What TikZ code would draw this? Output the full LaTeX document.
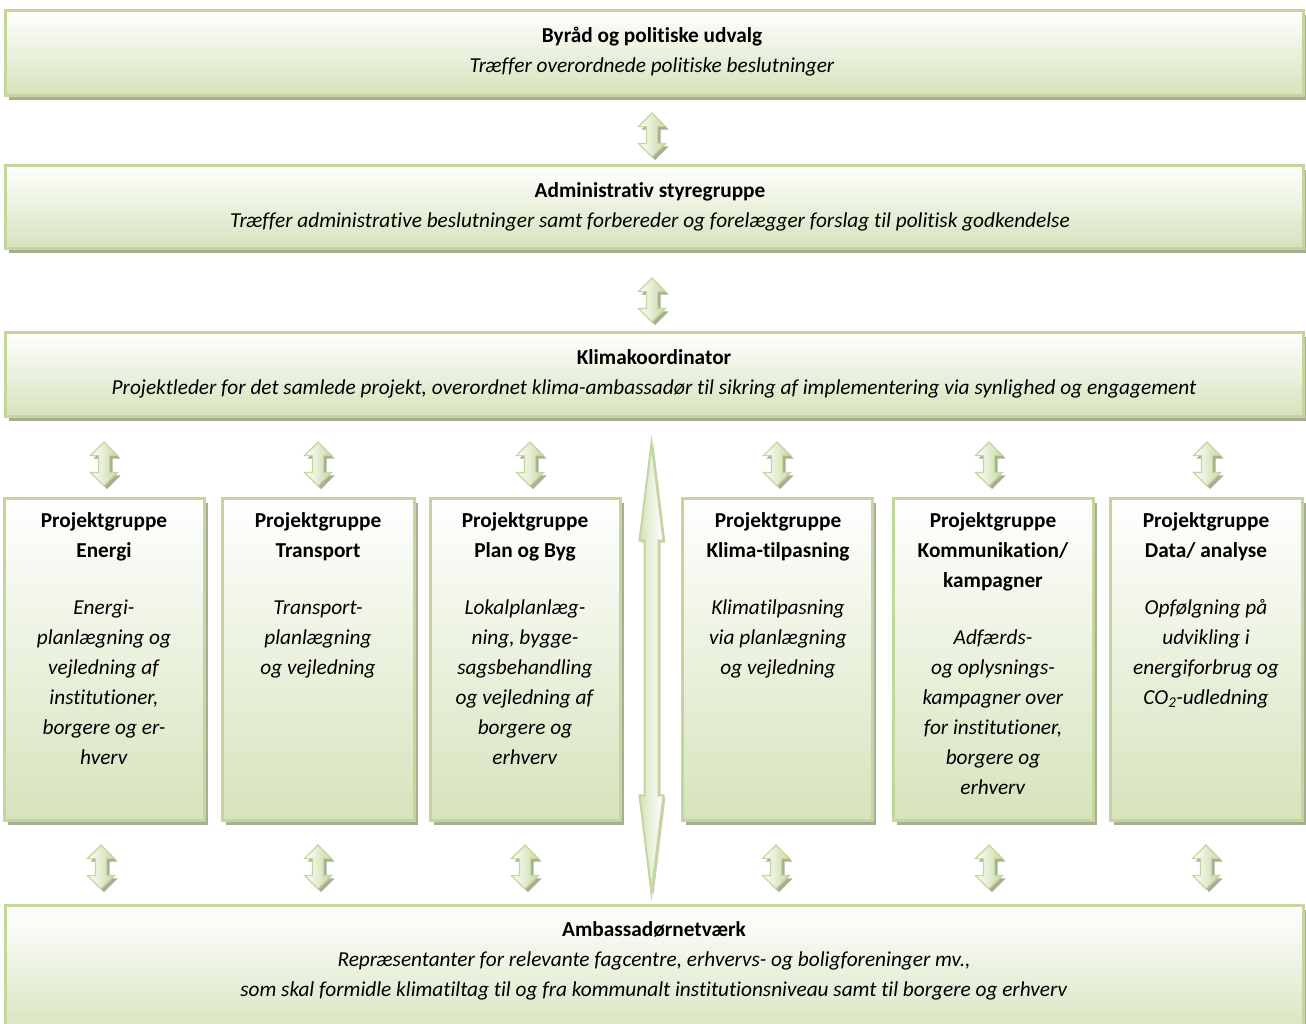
\documentclass[tikz,border=0pt]{standalone}
\usepackage{fontspec}
\setmainfont{Carlito}[Ligatures=NoCommon]
\usetikzlibrary{shapes.arrows,shadows}
\definecolor{bordg}{HTML}{C3D69B}
\definecolor{fillg}{HTML}{D6E3BC}
\definecolor{arrg}{HTML}{C6D9A0}
\definecolor{shadg}{HTML}{A6AE95}
\begin{document}
\begin{tikzpicture}[x=1pt,y=-1pt,
  box/.style={draw=bordg, line width=3pt, top color=white, bottom color=fillg, inner sep=0pt,
    drop shadow={shadow xshift=4pt, shadow yshift=-5pt, fill=shadg, opacity=1}},
  txt/.style={anchor=base, align=center, font=\fontsize{21.3}{30}\selectfont, inner sep=0pt},
  dbl/.style={double arrow, rotate=90, minimum height=44pt, inner xsep=0pt, inner ysep=5pt,
    double arrow head extend=8pt, draw=bordg, line width=1.2pt, left color=white, right color=arrg,
    drop shadow={shadow xshift=3pt, shadow yshift=-3pt, fill=shadg, opacity=1}}]
\useasboundingbox (0,0) rectangle (1306,1023);
% row boxes
\node[box, minimum width=1298pt, minimum height=85pt] (top) at (654,52.5) {};
\node[box, minimum width=1298pt, minimum height=83pt] (adm) at (654,206.5) {};
\node[box, minimum width=1298pt, minimum height=84pt] (klima) at (654,374) {};
\node[box, minimum width=200pt, minimum height=322pt] (p1) at (104,659) {};
\node[box, minimum width=192pt, minimum height=322pt] (p2) at (318,659) {};
\node[box, minimum width=190pt, minimum height=322pt] (p3) at (525,659) {};
\node[box, minimum width=190pt, minimum height=322pt] (p4) at (777,659) {};
\node[box, minimum width=200pt, minimum height=322pt] (p5) at (993,659) {};
\node[box, minimum width=192pt, minimum height=322pt] (p6) at (1206,659) {};
\node[box, minimum width=1298pt, minimum height=135pt] (amb) at (654,972.5) {};
% texts (anchor = baseline of the last line)
\node[txt] (t1) at (652,72) {\textbf{Byråd og politiske udvalg}\\\textit{Træffer overordnede politiske beslutninger}};
\node[txt] (t2) at (650,227) {\textbf{Administrativ styregruppe}\\\textit{Træffer administrative beslutninger samt forbereder og forelægger forslag til politisk godkendelse}};
\node[txt] (t3) at (654,394) {\textbf{Klimakoordinator}\\\textit{Projektleder for det samlede projekt, overordnet klima-ambassadør til sikring af implementering via synlighed og engagement}};
\node[txt] (q1) at (104,764) {\textbf{Projektgruppe}\\\textbf{Energi}\\[27pt]\textit{Energi-}\\\textit{planlægning og}\\\textit{vejledning af}\\\textit{institutioner,}\\\textit{borgere og er-}\\\textit{hverv}};
\node[txt] (q2) at (318,674) {\textbf{Projektgruppe}\\\textbf{Transport}\\[27pt]\textit{Transport-}\\\textit{planlægning}\\\textit{og vejledning}};
\node[txt] (q3) at (525,764) {\textbf{Projektgruppe}\\\textbf{Plan og Byg}\\[27pt]\textit{Lokalplanlæg-}\\\textit{ning, bygge-}\\\textit{sagsbehandling}\\\textit{og vejledning af}\\\textit{borgere og}\\\textit{erhverv}};
\node[txt] (q4) at (778,674) {\textbf{Projektgruppe}\\\textbf{Klima-tilpasning}\\[27pt]\textit{Klimatilpasning}\\\textit{via planlægning}\\\textit{og vejledning}};
\node[txt] (q5) at (993,794) {\textbf{Projektgruppe}\\\textbf{Kommunikation/}\\\textbf{kampagner}\\[27pt]\textit{Adfærds-}\\\textit{og oplysnings-}\\\textit{kampagner over}\\\textit{for institutioner,}\\\textit{borgere og}\\\textit{erhverv}};
\node[txt] (q6) at (1206,704) {\textbf{Projektgruppe}\\\textbf{Data/ analyse}\\[27pt]\textit{Opfølgning på}\\\textit{udvikling i}\\\textit{energiforbrug og}\\\textit{CO\textsubscript{2}-udledning}};
\node[txt] (t4) at (654,996) {\textbf{Ambassadørnetværk}\\\textit{Repræsentanter for relevante fagcentre, erhvervs- og boligforeninger mv.,}\\\textit{som skal formidle klimatiltag til og fra kommunalt institutionsniveau samt til borgere og erhverv}};
% small arrows
\node[dbl] (a1) at (652,135) {};
\node[dbl] (a2) at (652,300) {};
\foreach \x/\n in {104/1,318/2,530/3,777/4,989/5,1207/6}{
  \node[dbl] (b\n) at (\x,464) {};
}
\foreach \x/\n in {101/1,318/2,525/3,776/4,989/5,1206/6}{
  \node[dbl] (c\n) at (\x,867) {};
}
% big arrow
\node[double arrow, rotate=90, minimum height=450pt, inner xsep=0pt, inner ysep=6pt,
  double arrow head extend=5pt, double arrow tip angle=14, draw=bordg, line width=2pt,
  left color=fillg, right color=white,
  drop shadow={shadow xshift=2pt, shadow yshift=-2pt, fill=shadg, opacity=0.6}] (big) at (651.5,668) {};
\end{tikzpicture}
\end{document}
